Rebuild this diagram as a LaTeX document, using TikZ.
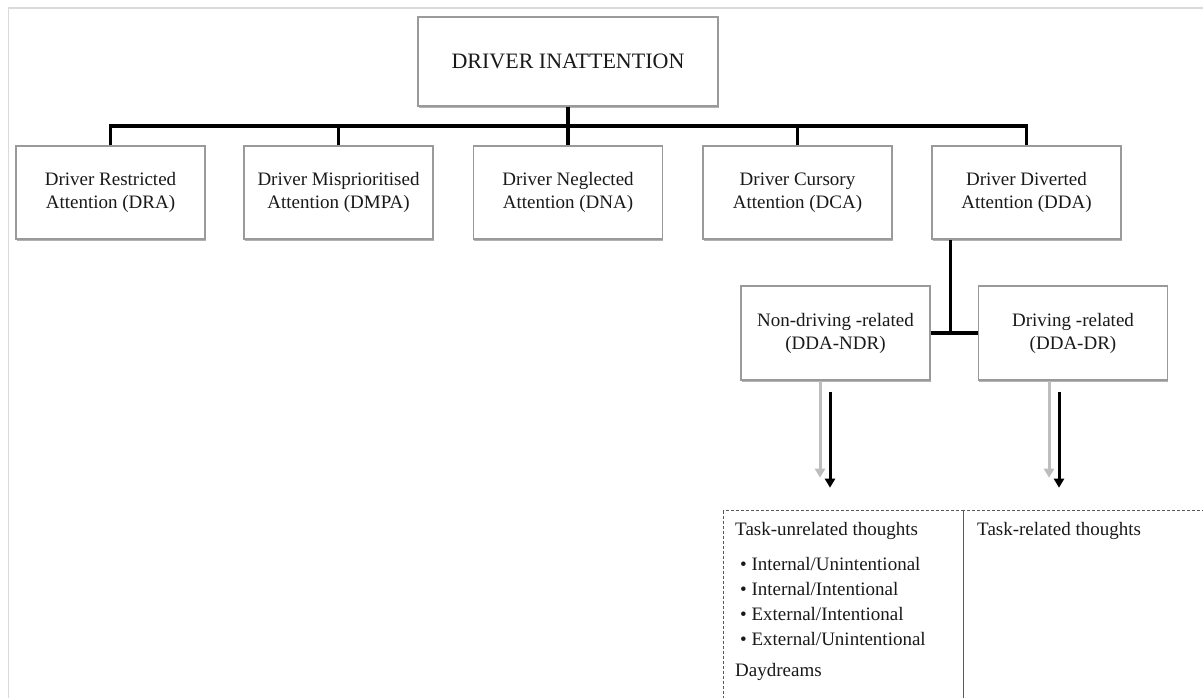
\documentclass[tikz,border=0pt]{standalone}
\usepackage{fontspec}
\setmainfont{Liberation Serif}
\usetikzlibrary{calc,shadows,arrows.meta}
\definecolor{boxline}{HTML}{9A9A9A}
\definecolor{framecol}{HTML}{DADADA}
\definecolor{lightarrow}{HTML}{BDBDBD}
\tikzset{
  solidbox/.style={draw=boxline, line width=1.4pt, fill=white, rectangle,
    drop shadow={shadow xshift=0.8pt, shadow yshift=-1.8pt, fill=black, opacity=0.3},
    align=center, inner sep=0pt, text=black!90,
    font=\fontsize{19}{23}\selectfont},
  catbox/.style={solidbox, minimum width=189pt, minimum height=93pt},
  conn/.style={line width=3.5pt, black},
  blackarrow/.style={line width=3pt, black, -{Triangle[width=10pt,length=9pt]}},
  greyarrow/.style={line width=3pt, lightarrow, -{Triangle[width=10pt,length=9pt]}},
  dashbox/.style={draw=black!65, line width=1.2pt, dash pattern=on 3pt off 2pt, rectangle, inner sep=0pt},
  thought/.style={anchor=west, inner sep=0pt, text=black!90, font=\fontsize{19}{23}\selectfont}
}
\begin{document}
\begin{tikzpicture}[x=1pt,y=-1pt]
\useasboundingbox (0,0) rectangle (1203,698);
% frame
\draw[framecol, line width=1.5pt] (8.5,700) -- (8.5,8) -- (1205,8);

% top
\node[solidbox, minimum width=300pt, minimum height=89pt, font=\fontsize{22}{26}\selectfont] (top) at (568,61.5) {DRIVER INATTENTION};

% second row
\node[catbox] (dra)  at (110.5,192.5) {Driver Restricted\\Attention (DRA)};
\node[catbox] (dmpa) at (338.5,192.5) {Driver Misprioritised\\Attention (DMPA)};
\node[catbox] (dna)  at (568,192.5) {Driver Neglected\\Attention (DNA)};
\node[catbox] (dca)  at (797.5,192.5) {Driver Cursory\\Attention (DCA)};
\node[catbox] (dda)  at (1026.5,192.5) {Driver Diverted\\Attention (DDA)};

% third row
\node[catbox, minimum height=94pt] (ndr) at (835.5,333) {Non-driving -related\\(DDA-NDR)};
\node[catbox, minimum height=94pt] (dr)  at (1073,333) {Driving -related\\(DDA-DR)};

% bus
\coordinate (busy) at (0,126);
\draw[conn] (top.south) -- (dna.north);
\draw[conn] (dra.north) -- (dra.north |- busy) -- (dda.north |- busy) -- (dda.north);
\draw[conn] (dmpa.north) -- (dmpa.north |- busy);
\draw[conn] (dca.north) -- (dca.north |- busy);

% DDA split
\coordinate (ddadown) at ($(dda.south west)+(19,0)$);
\draw[conn] (ndr.east) -- (dr.west);
\draw[conn] (ddadown) -- (ddadown |- ndr.east);

% dashed boxes
\node[dashbox, anchor=north west, minimum width=240pt, minimum height=195pt] (tu) at (723,510) {};
\node[dashbox, anchor=north west, minimum width=243pt, minimum height=195pt] (tr) at (963,510) {};

% arrows
\draw[greyarrow]  ($(ndr.south)+(-15.5,0)$) -- ($(ndr.south)+(-15.5,97)$);
\draw[blackarrow] ($(ndr.south)+(-5.5,11)$) -- ($(ndr.south)+(-5.5,107)$);
\draw[greyarrow]  ($(dr.south)+(-24,0)$) -- ($(dr.south)+(-24,97)$);
\draw[blackarrow] ($(dr.south)+(-14,11)$) -- ($(dr.south)+(-14,107)$);

% texts
\node[thought] (t1) at (735,531) {Task-unrelated thoughts};
\node[thought] (t2) at (740,564) {\textbullet\ Internal/Unintentional};
\node[thought] (t3) at (740,589) {\textbullet\ Internal/Intentional};
\node[thought] (t4) at (740,614) {\textbullet\ External/Intentional};
\node[thought] (t5) at (740,639) {\textbullet\ External/Unintentional};
\node[thought] (t6) at (735,672) {Daydreams};
\node[thought] (t7) at (977,531) {Task-related thoughts};
\end{tikzpicture}
\end{document}
